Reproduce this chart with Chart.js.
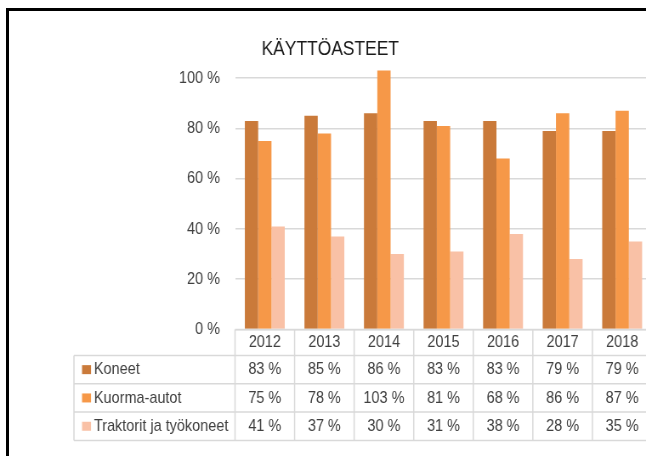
<!DOCTYPE html>
<html lang="fi">
<head>
<meta charset="utf-8">
<title>Käyttöasteet</title>
<script src="https://cdn.jsdelivr.net/npm/chart.js@4/dist/chart.umd.min.js"></script>
<style>
  html, body { margin: 0; padding: 0; background: #fff; overflow: hidden; }
  /* the original picture is squeezed sideways, so draw wider and compress */
  #wrap {
    position: absolute; left: 0; top: 0; width: 777px; height: 456px;
    transform: scaleX(0.85); transform-origin: 0 0;
  }
  #frame {
    position: absolute; left: 6px; top: 8px; width: 700px; height: 500px;
    border-left: 3px solid #000; border-top: 3px solid #000; pointer-events: none;
  }
</style>
</head>
<body>
<div id="wrap">
  <canvas id="kayttoChart" width="777" height="456"></canvas>
</div>
<div id="frame"></div>
<script>
const years = ["2012", "2013", "2014", "2015", "2016", "2017", "2018"];
const seriesNames = ["Koneet", "Kuorma-autot", "Traktorit ja työkoneet"];
const koneet = [83, 85, 86, 83, 83, 79, 79];
const kuormaAutot = [75, 78, 103, 81, 68, 86, 87];
const traktorit = [41, 37, 30, 31, 38, 28, 35];
const yTickValues = [0, 20, 40, 60, 80, 100];

const FONT = "'Liberation Sans', Arial, sans-serif";
const colors = ["#CA7A3A", "#F69848", "#F9C1A6"];
const lineColor = "#D9D9D9";
const textColor = "#404040";

// data table under the chart, columns follow the x scale
const dataTablePlugin = {
  id: "dataTable",
  afterDraw(chart) {
    const { ctx, chartArea, scales } = chart;
    const x = scales.x;
    const series = [koneet, kuormaAutot, traktorit];
    const half = (x.getPixelForValue(1) - x.getPixelForValue(0)) / 2;
    const tableLeft = 87;
    const headTop = chartArea.bottom;
    const headBottom = headTop + 26;
    const rowH = 28.3;
    const bottom = headBottom + rowH * series.length;
    const right = x.getPixelForValue(years.length - 1) + half;

    ctx.save();
    ctx.strokeStyle = lineColor;
    ctx.lineWidth = 1.5;
    ctx.beginPath();
    ctx.moveTo(x.getPixelForValue(0) - half, headTop);
    ctx.lineTo(right, headTop);
    for (let r = 0; r <= series.length; r++) {
      const y = headBottom + r * rowH;
      ctx.moveTo(tableLeft, y);
      ctx.lineTo(right, y);
    }
    ctx.moveTo(tableLeft, headBottom);
    ctx.lineTo(tableLeft, bottom);
    for (let i = 0; i <= years.length; i++) {
      const xx = x.getPixelForValue(0) - half + i * half * 2;
      ctx.moveTo(xx, headTop);
      ctx.lineTo(xx, bottom);
    }
    ctx.stroke();

    ctx.fillStyle = textColor;
    ctx.font = "17px " + FONT;
    ctx.textBaseline = "middle";
    ctx.textAlign = "center";
    years.forEach((yr, i) => {
      ctx.fillText(yr, x.getPixelForValue(i), (headTop + headBottom) / 2);
    });
    series.forEach((vals, r) => {
      const cy = headBottom + r * rowH + rowH / 2;
      ctx.textAlign = "center";
      ctx.fillStyle = textColor;
      vals.forEach((v, i) => ctx.fillText(v + " %", x.getPixelForValue(i), cy));
      ctx.fillStyle = colors[r];
      ctx.fillRect(96.5, cy - 4.5, 10.6, 9);
      ctx.fillStyle = textColor;
      ctx.textAlign = "left";
      ctx.fillText(seriesNames[r], 110.5, cy);
    });
    ctx.restore();
  }
};

document.addEventListener("DOMContentLoaded", () => {
  const ctx = document.getElementById("kayttoChart");
  if (!ctx) return;

  new Chart(ctx, {
    type: "bar",
    data: {
      labels: years,
      datasets: [
        { label: seriesNames[0], data: koneet, backgroundColor: colors[0] },
        { label: seriesNames[1], data: kuormaAutot, backgroundColor: colors[1] },
        { label: seriesNames[2], data: traktorit, backgroundColor: colors[2] }
      ]
    },
    options: {
      responsive: false,
      animation: false,
      categoryPercentage: 0.67,
      barPercentage: 1.0,
      layout: { padding: { top: 31, bottom: 126.5, left: 10, right: 10 } },
      plugins: {
        legend: { display: false },
        tooltip: { enabled: false },
        title: {
          display: true,
          text: "KÄYTTÖASTEET",
          color: "#1A1A1A",
          font: { family: FONT, size: 20.5, weight: "normal" },
          padding: { top: 6.5, bottom: 6 }
        }
      },
      scales: {
        x: { display: false, offset: true },
        y: {
          min: 0,
          max: 104,
          afterBuildTicks: (scale) => {
            scale.ticks = yTickValues.map((v) => ({ value: v }));
          },
          afterFit: (scale) => {
            scale.width = 266.5;
          },
          border: { display: false },
          grid: { color: lineColor, lineWidth: 1.5, drawTicks: false },
          ticks: {
            padding: 17.7,
            color: textColor,
            font: { family: FONT, size: 17 },
            callback: (v) => v + " %"
          }
        }
      }
    },
    plugins: [dataTablePlugin]
  });
});
</script>
</body>
</html>
